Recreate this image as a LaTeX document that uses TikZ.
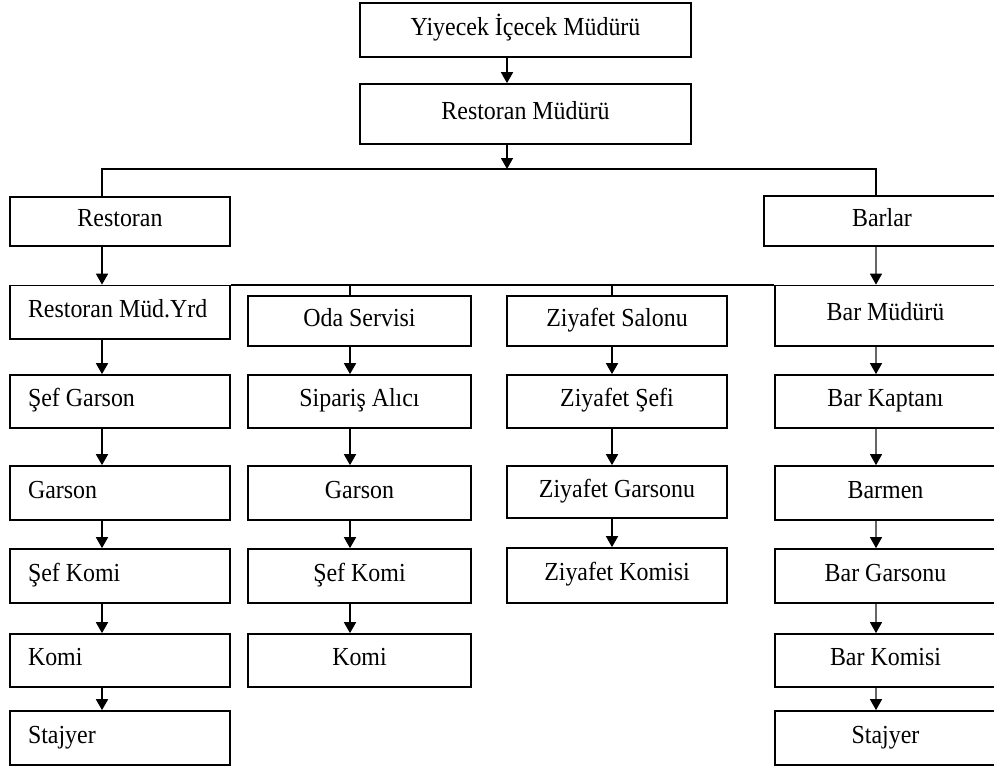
\documentclass[tikz,border=0pt]{standalone}
\usepackage{fontspec}
\setmainfont[FakeStretch=0.92]{Liberation Serif}
\usetikzlibrary{arrows.meta}
\begin{document}
\begin{tikzpicture}[x=1pt,y=-1pt,
  box/.style={draw, line width=1.7pt, rectangle, inner sep=0pt,
    font=\fontsize{26}{30}\selectfont, text height=12pt, text depth=2pt},
  lbox/.style={box, text width=184pt, align=flush left, inner xsep=18pt},
  arr/.style={line width=1.7pt, -{Triangle[width=12pt,length=11pt]}},
  garr/.style={line width=1.1pt, draw=black!60, -{Triangle[width=12pt,length=11pt,color=black]}},
  ln/.style={line width=1.7pt}]
\useasboundingbox (0,0) rectangle (994,769);
\clip (0,0) rectangle (994,769);
% axes
\coordinate (ax0) at (507,0);
\coordinate (ax1) at (102,0);
\coordinate (ax2) at (350,0);
\coordinate (ax3) at (612,0);
\coordinate (ax4) at (876,0);
% top
\node[box, minimum width=331pt, minimum height=54pt] (yic) at (525.5,30) {Yiyecek İçecek Müdürü};
\node[box, minimum width=331pt, minimum height=60pt] (rm) at (525.5,114) {Restoran Müdürü};
\node[box, minimum width=220pt, minimum height=49pt] (rest) at (120,221.5) {Restoran};
\node[box, minimum width=236pt, minimum height=50pt] (bars) at (882,221) {Barlar};
% column 1
\node[lbox, minimum width=220pt, minimum height=53.5pt] (c1a) at (120,312.25) {\mbox{Restoran Müd.Yrd}};
\node[lbox, minimum width=220pt, minimum height=53pt] (c1b) at (120,401.5) {\mbox{Şef Garson}};
\node[lbox, minimum width=220pt, minimum height=54pt] (c1c) at (120,493) {\mbox{Garson}};
\node[lbox, minimum width=220pt, minimum height=54pt] (c1d) at (120,576) {\mbox{Şef Komi}};
\node[lbox, minimum width=220pt, minimum height=53pt] (c1e) at (120,660.5) {\mbox{Komi}};
\node[lbox, minimum width=220pt, minimum height=54pt] (c1f) at (120,738) {\mbox{Stajyer}};
% column 2
\node[box, minimum width=223pt, minimum height=50pt] (c2a) at (359.5,321) {Oda Servisi};
\node[box, minimum width=223pt, minimum height=53pt] (c2b) at (359.5,401.5) {Sipariş Alıcı};
\node[box, minimum width=223pt, minimum height=54pt] (c2c) at (359.5,493) {Garson};
\node[box, minimum width=223pt, minimum height=54pt] (c2d) at (359.5,576) {Şef Komi};
\node[box, minimum width=223pt, minimum height=53pt] (c2e) at (359.5,660.5) {Komi};
% column 3
\node[box, minimum width=220pt, minimum height=50pt] (c3a) at (617,321) {Ziyafet Salonu};
\node[box, minimum width=220pt, minimum height=53pt] (c3b) at (617,401.5) {Ziyafet Şefi};
\node[box, minimum width=220pt, minimum height=52pt] (c3c) at (617,492) {Ziyafet Garsonu};
\node[box, minimum width=220pt, minimum height=55pt] (c3d) at (617,575.5) {Ziyafet Komisi};
% column 4
\node[box, minimum width=221pt, minimum height=60.5pt] (c4a) at (885.5,315.75) {Bar Müdürü};
\node[box, minimum width=221pt, minimum height=53pt] (c4b) at (885.5,401.5) {Bar Kaptanı};
\node[box, minimum width=221pt, minimum height=54pt] (c4c) at (885.5,493) {Barmen};
\node[box, minimum width=221pt, minimum height=54pt] (c4d) at (885.5,576) {Bar Garsonu};
\node[box, minimum width=221pt, minimum height=53pt] (c4e) at (885.5,660.5) {Bar Komisi};
\node[box, minimum width=221pt, minimum height=54pt] (c4f) at (885.5,738) {Stajyer};
% junctions
\coordinate (jm) at (507,169);
\coordinate (j1) at (102,169);
\coordinate (j2) at (876,169);
% top connectors
\draw[arr] (yic.south -| ax0) -- (rm.north -| ax0);
\draw[arr] (rm.south -| ax0) -- (jm);
\draw[ln] (rest.north -| ax1) -- (j1) -- (j2) -- (bars.north -| ax4);
\draw[arr] (rest.south -| ax1) -- (c1a.north -| ax1);
\draw[garr] (bars.south -| ax4) -- (c4a.north -| ax4);
% second level line
\draw[ln] (c1a.north east) -- (c4a.north west);
\draw[ln] (c1a.north -| ax2) -- (c2a.north -| ax2);
\draw[ln] (c1a.north -| ax3) -- (c3a.north -| ax3);
% column 1 arrows
\draw[arr] (c1a.south -| ax1) -- (c1b.north -| ax1);
\draw[arr] (c1b.south -| ax1) -- (c1c.north -| ax1);
\draw[arr] (c1c.south -| ax1) -- (c1d.north -| ax1);
\draw[arr] (c1d.south -| ax1) -- (c1e.north -| ax1);
\draw[arr] (c1e.south -| ax1) -- (c1f.north -| ax1);
% column 2 arrows
\draw[arr] (c2a.south -| ax2) -- (c2b.north -| ax2);
\draw[arr] (c2b.south -| ax2) -- (c2c.north -| ax2);
\draw[arr] (c2c.south -| ax2) -- (c2d.north -| ax2);
\draw[arr] (c2d.south -| ax2) -- (c2e.north -| ax2);
% column 3 arrows
\draw[arr] (c3a.south -| ax3) -- (c3b.north -| ax3);
\draw[arr] (c3b.south -| ax3) -- (c3c.north -| ax3);
\draw[arr] (c3c.south -| ax3) -- (c3d.north -| ax3);
% column 4 arrows
\draw[garr] (c4a.south -| ax4) -- (c4b.north -| ax4);
\draw[garr] (c4b.south -| ax4) -- (c4c.north -| ax4);
\draw[garr] (c4c.south -| ax4) -- (c4d.north -| ax4);
\draw[garr] (c4d.south -| ax4) -- (c4e.north -| ax4);
\draw[garr] (c4e.south -| ax4) -- (c4f.north -| ax4);
\end{tikzpicture}
\end{document}
